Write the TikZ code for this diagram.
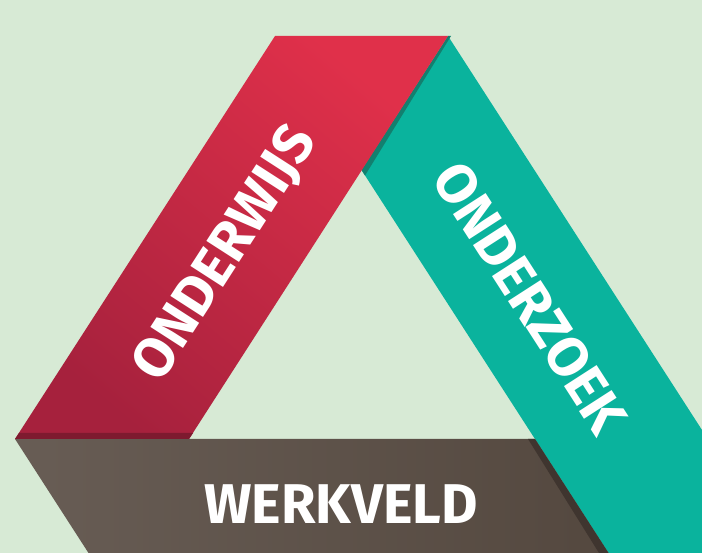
\documentclass[tikz,border=0pt]{standalone}
\usepackage{fontspec}
\setmainfont{Fira Sans}
\usepackage{xcolor}
\definecolor{page-bg}{HTML}{D7EAD5}
\definecolor{wijs-top}{HTML}{E0304A}
\definecolor{wijs-mid}{HTML}{D52D47}
\definecolor{wijs-bot}{HTML}{A6213D}
\definecolor{wijs-shade}{HTML}{7E1A2F}
\definecolor{zoek}{HTML}{0AB39D}
\definecolor{zoek-shade}{HTML}{13806F}
\definecolor{veld-left}{HTML}{685D55}
\definecolor{veld-right}{HTML}{54483F}
\definecolor{veld-shade}{HTML}{3F352F}

\begin{document}
\begin{tikzpicture}[x=1pt, y=-1pt,
        every node/.style={font=\bfseries\fontsize{56}{56}\selectfont, text=white,
          inner sep=0pt, text height=39pt, text depth=0pt}]
      \fill[page-bg] (0,0) rectangle (702,553);
      % teal band, behind the red one
      \fill[zoek] (448,36) -- (702,430) -- (702,553) -- (608.5,553) -- (361.5,170) -- cycle;
      \fill[zoek-shade] (448,36) -- (451,36) -- (365,175.5) -- (361.5,170) -- cycle;
      % brown band
      \shade[left color=veld-left, right color=veld-right]
        (15,439) -- (535,439) -- (608.5,553) -- (88.5,553) -- cycle;
      \fill[veld-shade] (528,439) -- (535,439) -- (608.5,553) -- (599,553) -- cycle;
      % red band
      \shade[top color=wijs-top, middle color=wijs-mid, bottom color=wijs-bot, shading angle=-40]
        (15,439) -- (275,36) -- (448,36) -- (189,439) -- cycle;
      \fill[wijs-shade] (15,439) -- (19,433) -- (193,433) -- (189,439) -- cycle;
      \node[rotate=57.2] (wijs) at (223,252) {ONDERWIJS};
      \node[rotate=-57.2] (zoek) at (530,298) {ONDERZOEK};
      \node (veld) at (341,504) {WERKVELD};
    \end{tikzpicture}
\end{document}
